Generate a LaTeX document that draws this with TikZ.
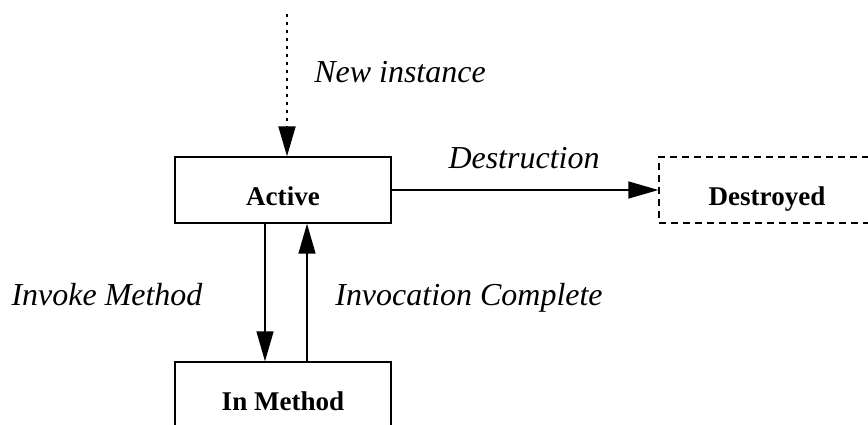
\documentclass[tikz,border=0pt]{standalone}
\usepackage{fontspec}
\setmainfont{Liberation Serif}
\usetikzlibrary{arrows.meta,calc}

\tikzset{
  state/.style={draw, line width=0.8pt, minimum width=4.32cm, minimum height=1.32cm,
    text height=0.6cm, text depth=0pt, inner sep=0pt,
    font=\fontsize{15.4}{18}\selectfont\bfseries},
  gone/.style={state, dash pattern=on 0.14cm off 0.1cm},
  trans/.style={line width=0.8pt, -{Triangle[length=0.6cm,width=0.34cm]}},
  tlabel/.style={anchor=base, font=\fontsize{18.2}{22}\selectfont\itshape},
}

\begin{document}
\begin{tikzpicture}[x=0.02cm,y=-0.02cm]
	\useasboundingbox (0,0) rectangle (868,424);
	\clip (0,0) rectangle (868,424);

	% states
	\node[state] (active) at (283,190) {Active};
	\node[gone] (destroyed) at (767,190) {Destroyed};
	\node[state] (inmethod) at (283,395) {In Method};
	\coordinate (start) at (287,14);

	% transitions
	\draw[trans, line width=1.1pt, dash pattern=on 0.06cm off 0.1cm] (start) -- (start |- active.north);
	\draw[trans] (active.east) -- (destroyed.west);
	\draw[trans] ($(active.south)+(-18,0)$) -- ($(inmethod.north)+(-18,0)$);
	\draw[trans] ($(inmethod.north)+(24,0)$) -- ($(active.south)+(24,0)$);

	\node[tlabel] (newlbl) at (400,82) {New instance};
	\node[tlabel] (destlbl) at (524,168) {Destruction};
	\node[tlabel] (invlbl) at (107,305) {Invoke Method};
	\node[tlabel] (donelbl) at (469,305) {Invocation Complete};
\end{tikzpicture}
\end{document}
